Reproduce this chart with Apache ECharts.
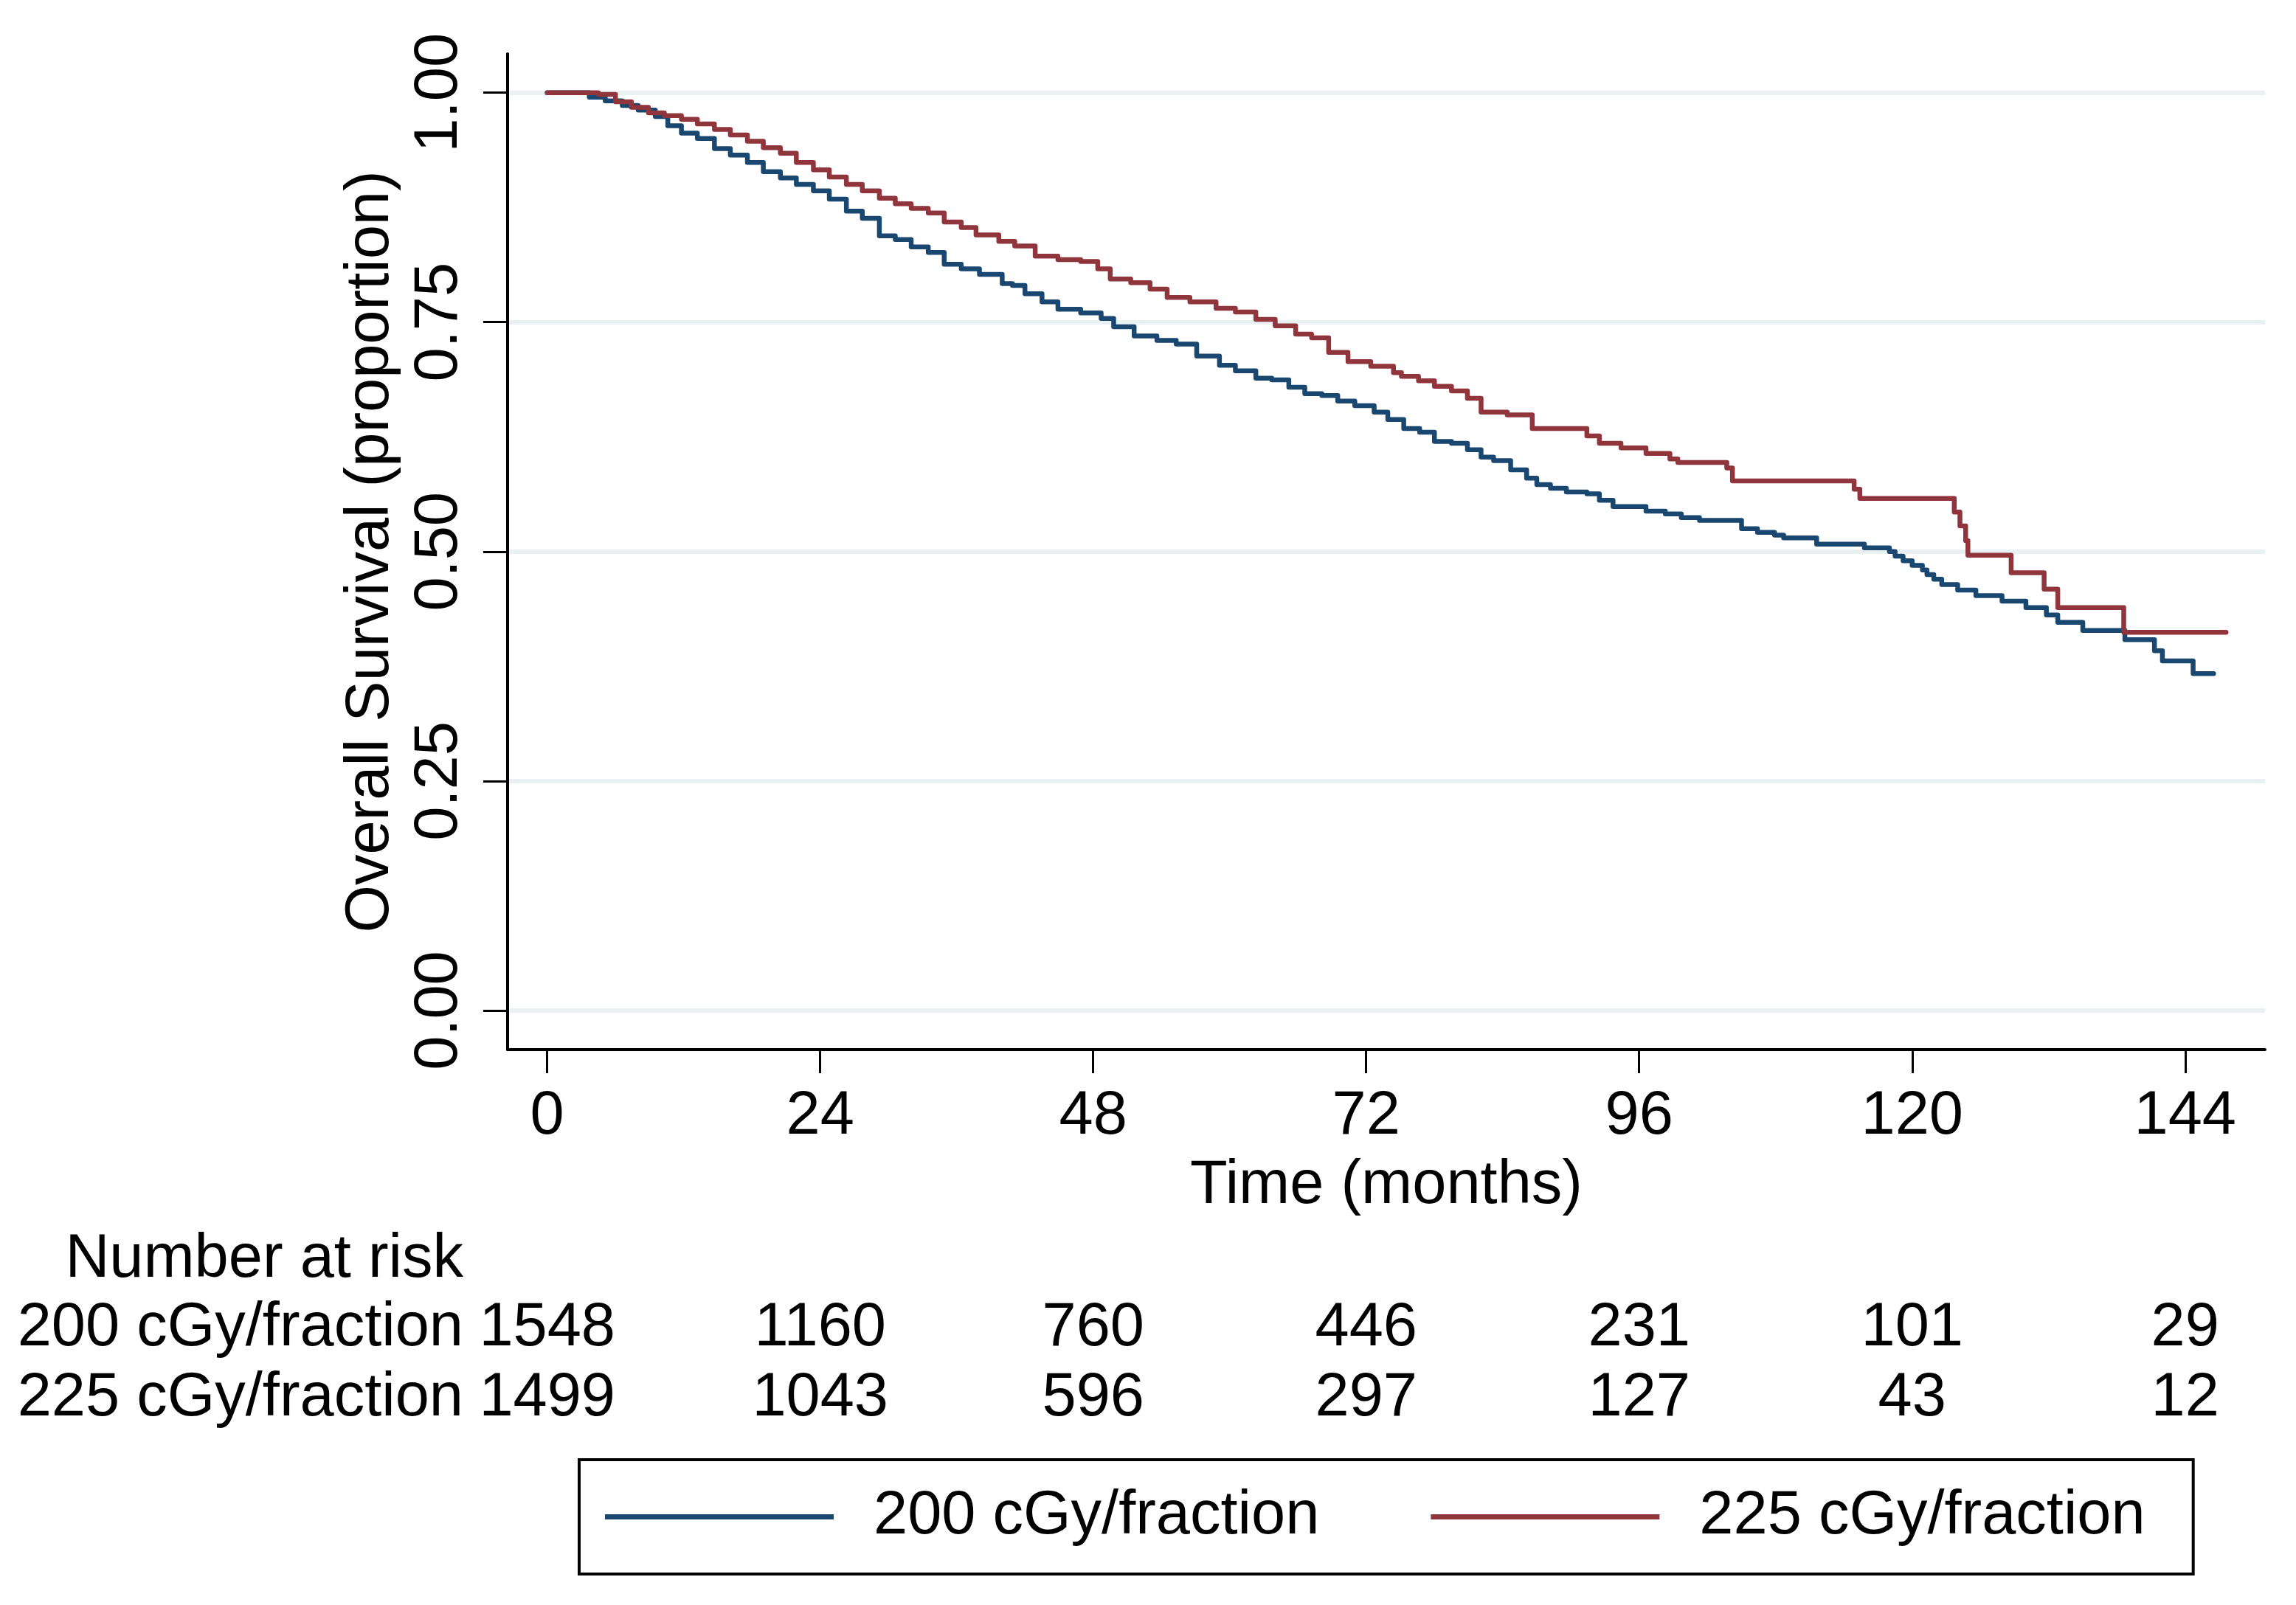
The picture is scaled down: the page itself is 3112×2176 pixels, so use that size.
<!DOCTYPE html>
<html><head><meta charset="utf-8">
<script src="https://cdn.jsdelivr.net/npm/echarts@6/dist/echarts.min.js"></script>
<style>html,body{margin:0;padding:0;background:#fff}#c{width:3112px;height:2176px}</style>
</head><body><div id="c"></div>
<script>
const seriesNames = ['200 cGy/fraction', '225 cGy/fraction'];
// Kaplan-Meier estimates: time (months) and survival proportion
const blueT = [0, 3.7, 5.1, 6.6, 8.0, 9.5, 10.6, 11.8, 13.2, 14.7, 16.1, 17.6, 19.0, 20.5, 21.9, 23.4, 24.8, 26.3, 27.7, 29.2, 30.6, 32.0, 33.5, 34.9, 36.4, 38.0, 40.0, 40.9, 42.0, 43.5, 44.9, 46.9, 48.7, 49.8, 51.6, 53.6, 55.3, 57.1, 59.1, 60.5, 62.3, 63.7, 65.2, 66.6, 68.1, 69.5, 71.0, 72.7, 73.9, 75.3, 76.7, 78.0, 79.5, 80.9, 82.1, 83.2, 84.7, 86.1, 87.0, 88.2, 89.6, 91.4, 92.5, 93.7, 96.6, 98.3, 99.7, 101.3, 105.0, 106.4, 107.9, 108.7, 111.6, 115.8, 118.0, 118.5, 119.2, 120.0, 120.9, 121.3, 121.9, 122.6, 124.0, 125.6, 127.9, 130.0, 131.8, 132.8, 135.0, 138.7, 141.3, 142.0, 144.7, 146.5];
const blueS = [1.000, 0.995, 0.991, 0.986, 0.981, 0.974, 0.964, 0.956, 0.950, 0.939, 0.932, 0.924, 0.914, 0.907, 0.900, 0.893, 0.884, 0.871, 0.863, 0.844, 0.840, 0.832, 0.826, 0.813, 0.808, 0.802, 0.792, 0.790, 0.781, 0.772, 0.764, 0.760, 0.754, 0.745, 0.735, 0.730, 0.726, 0.713, 0.703, 0.697, 0.689, 0.687, 0.679, 0.672, 0.670, 0.664, 0.659, 0.652, 0.644, 0.634, 0.630, 0.620, 0.618, 0.611, 0.603, 0.599, 0.589, 0.580, 0.573, 0.569, 0.565, 0.563, 0.556, 0.549, 0.544, 0.541, 0.537, 0.534, 0.525, 0.521, 0.518, 0.515, 0.508, 0.504, 0.500, 0.495, 0.490, 0.485, 0.480, 0.475, 0.470, 0.464, 0.458, 0.452, 0.446, 0.439, 0.431, 0.423, 0.414, 0.404, 0.392, 0.381, 0.367, 0.367];
const redT = [0, 4.5, 6.0, 7.4, 8.9, 10.3, 11.8, 13.2, 14.7, 16.1, 17.6, 19.0, 20.5, 21.9, 23.4, 24.8, 26.3, 27.7, 29.2, 30.6, 32.0, 33.5, 34.9, 36.4, 37.7, 39.7, 41.1, 42.9, 44.9, 46.9, 48.4, 49.5, 51.3, 53.0, 54.5, 56.5, 58.8, 60.5, 62.3, 64.0, 65.8, 67.2, 68.7, 70.4, 72.4, 74.4, 75.1, 76.6, 78.0, 79.5, 80.9, 82.1, 84.4, 86.6, 91.4, 92.5, 94.4, 96.6, 98.7, 99.4, 103.7, 104.2, 114.9, 115.4, 123.7, 124.2, 124.7, 124.9, 128.7, 131.6, 132.8, 138.6, 147.6];
const redS = [1.000, 0.998, 0.990, 0.984, 0.978, 0.975, 0.971, 0.966, 0.960, 0.954, 0.947, 0.940, 0.934, 0.924, 0.916, 0.908, 0.900, 0.893, 0.885, 0.879, 0.874, 0.869, 0.859, 0.853, 0.845, 0.838, 0.833, 0.822, 0.818, 0.816, 0.808, 0.797, 0.793, 0.786, 0.777, 0.772, 0.765, 0.761, 0.753, 0.746, 0.737, 0.733, 0.717, 0.707, 0.702, 0.695, 0.691, 0.686, 0.680, 0.675, 0.667, 0.652, 0.649, 0.634, 0.626, 0.618, 0.613, 0.607, 0.601, 0.597, 0.591, 0.577, 0.568, 0.558, 0.543, 0.528, 0.512, 0.496, 0.477, 0.459, 0.439, 0.412, 0.412];
const xTicks = [0, 24, 48, 72, 96, 120, 144];
const yTicks = [0, 0.25, 0.5, 0.75, 1];
const riskTitle = 'Number at risk';
const riskMonths = [0, 24, 48, 72, 96, 120, 144];
const risk200 = [1548, 1160, 760, 446, 231, 101, 29];
const risk225 = [1499, 1043, 596, 297, 127, 43, 12];

const FONT = '"Liberation Sans", Arial, Helvetica, sans-serif';
const FS = 83;
const BLUE = '#1a476f', RED = '#90353b';
const zip = (t, s) => t.map((v, i) => [v, s[i]]);
const txtStyle = {fontFamily: FONT, fontSize: FS, color: '#000'};
const axLine = {show: true, onZero: false, lineStyle: {color: '#000', width: 4}};
const axTick = {color: '#000', width: 3};

const chart = echarts.init(document.getElementById('c'), null, {renderer: 'canvas'});
const option = {
  animation: false,
  backgroundColor: '#fff',
  grid: {left: 688, top: 73, right: 42, bottom: 753, containLabel: false, outerBoundsMode: 'none'},
  legend: {
    data: seriesNames, selectedMode: false, icon: 'rect',
    left: 785, top: 1979, orient: 'horizontal',
    itemWidth: 310, itemHeight: 7, itemGap: 151,
    padding: [36, 65, 36, 35],
    borderColor: '#000', borderWidth: 4, backgroundColor: '#fff',
    textStyle: Object.assign({padding: [0, 0, 0, 49]}, txtStyle)
  },
  xAxis: {
    type: 'value', min: -3.483, max: 151.02,
    name: 'Time (months)', nameLocation: 'middle', nameGap: 144, nameMoveOverlap: false,
    nameTextStyle: txtStyle,
    axisLine: axLine,
    axisTick: {show: true, customValues: xTicks, length: 32, lineStyle: axTick},
    axisLabel: Object.assign({show: true, customValues: xTicks, margin: 50}, txtStyle),
    splitLine: {show: false}
  },
  yAxis: {
    type: 'value', min: -0.0426, max: 1.0423,
    name: 'Overall Survival (proportion)', nameLocation: 'middle', nameGap: 143, nameMoveOverlap: false,
    nameTextStyle: txtStyle,
    axisLine: axLine,
    axisTick: {show: true, customValues: yTicks, length: 33, lineStyle: axTick},
    axisLabel: Object.assign({show: true, customValues: yTicks, rotate: 90, margin: 50,
      formatter: v => Number(v).toFixed(2)}, txtStyle),
    splitLine: {show: false}
  },
  series: [
    {
      type: 'line', name: 'grid', data: [], z: 0, silent: true,
      markLine: {
        z: 0, silent: true, animation: false, symbol: ['none', 'none'], label: {show: false},
        lineStyle: {color: '#eaf1f3', width: 6, type: 'solid'},
        emphasis: {disabled: true},
        data: yTicks.map(v => ({yAxis: v}))
      }
    },
    {
      type: 'line', name: seriesNames[0], data: zip(blueT, blueS), step: 'end',
      symbol: 'none', showSymbol: false, z: 3,
      lineStyle: {color: BLUE, width: 6.5, cap: 'round', join: 'round'},
      itemStyle: {color: BLUE}, emphasis: {disabled: true}
    },
    {
      type: 'line', name: seriesNames[1], data: zip(redT, redS), step: 'end',
      symbol: 'none', showSymbol: false, z: 4,
      lineStyle: {color: RED, width: 6.5, cap: 'round', join: 'round'},
      itemStyle: {color: RED}, emphasis: {disabled: true}
    }
  ]
};
chart.setOption(option);

const labelRight = 628;
const rowY = [1708, 1801, 1896];
const txt = (text, x, y, align) => ({
  type: 'text', x: x, y: y, silent: true,
  style: {text: String(text), fontFamily: FONT, fontSize: FS, fill: '#000', align: align, textAlign: align, verticalAlign: 'middle', textVerticalAlign: 'middle'}
});
const els = [txt(riskTitle, labelRight, rowY[0], 'right'),
  txt(seriesNames[0], labelRight, rowY[1], 'right'),
  txt(seriesNames[1], labelRight, rowY[2], 'right')];
riskMonths.forEach((m, i) => {
  const x = chart.convertToPixel({xAxisIndex: 0}, m);
  els.push(txt(risk200[i], x, rowY[1], 'center'));
  els.push(txt(risk225[i], x, rowY[2], 'center'));
});
chart.setOption({graphic: {elements: els}});
</script></body></html>
